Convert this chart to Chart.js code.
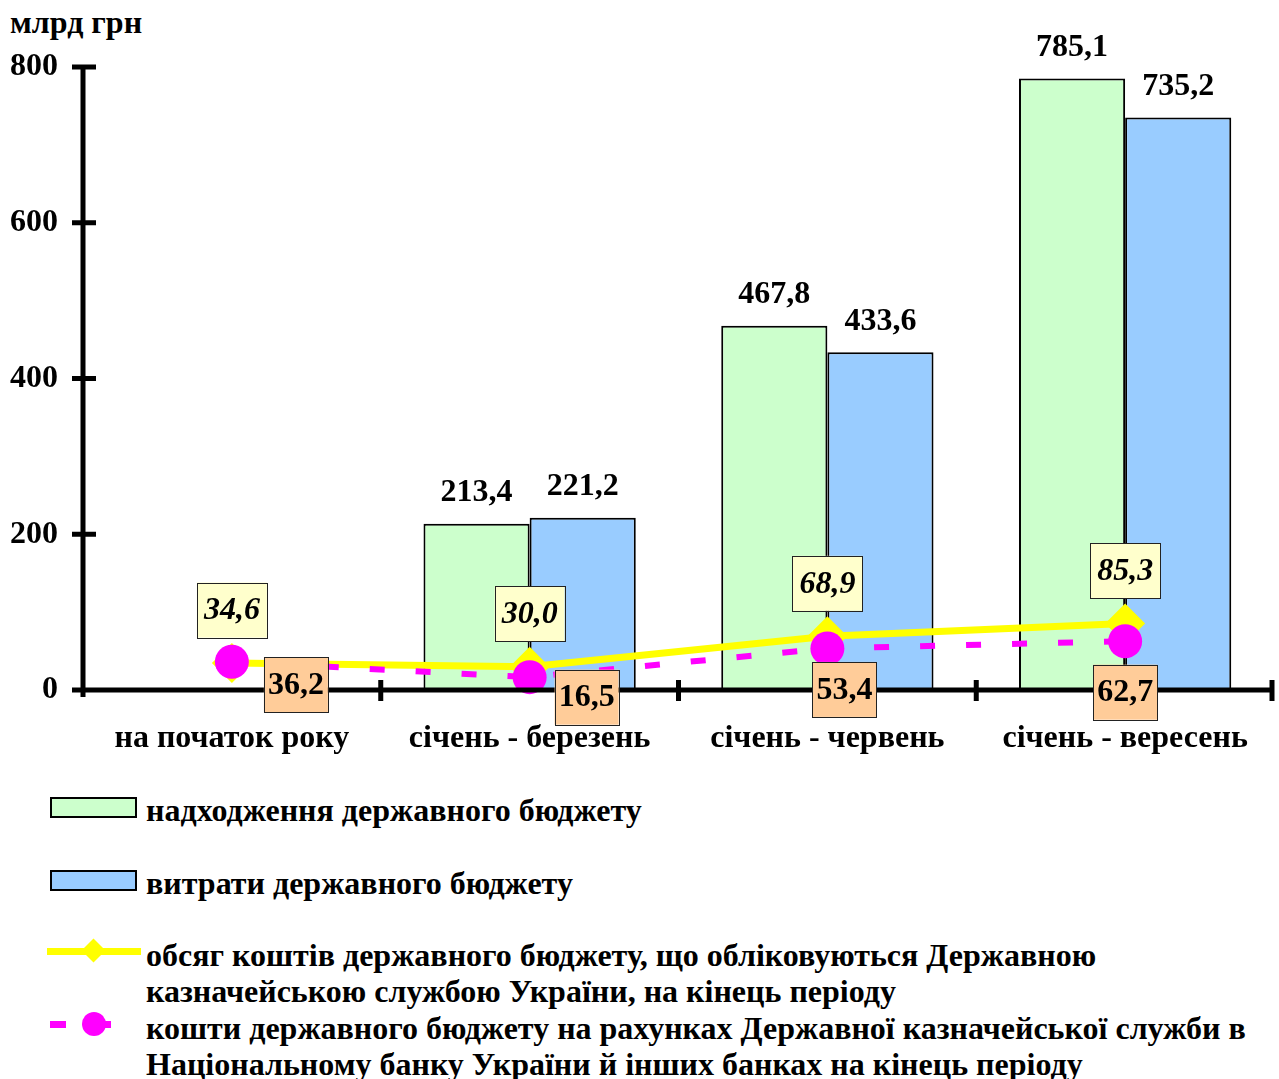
<!DOCTYPE html>
<html>
<head>
<meta charset="utf-8">
<script src="https://cdn.jsdelivr.net/npm/chart.js@4/dist/chart.umd.min.js"></script>
<style>
  html, body { margin:0; padding:0; background:#fff; }
  #wrap { position:relative; width:1279px; height:1079px; overflow:hidden; font-family:'Liberation Serif','Times New Roman',serif; }
  #unit { position:absolute; left:10px; top:4px; font-weight:bold; font-size:32px; line-height:36px; }
  #chartBox { position:absolute; left:0; top:0; width:1279px; height:775px; }
  .lg-text { position:absolute; left:146px; font-weight:bold; font-size:32px; line-height:36px; white-space:nowrap; }
  .lg-rect { position:absolute; left:50px; width:87px; height:21px; box-sizing:border-box; border:2px solid #000; }
  .abs { position:absolute; }
</style>
</head>
<body>
<div id="wrap">
  <div id="unit">млрд грн</div>
  <div id="chartBox"><canvas id="c"></canvas></div>
  <div id="legend"></div>
</div>
<script>
// ---------- data ----------
const categories = ['на початок року', 'січень - березень', 'січень - червень', 'січень - вересень'];
const revenues = [null, 213.4, 467.8, 785.1];
const expenditures = [null, 221.2, 433.6, 735.2];
const treasuryFunds = [34.6, 30.0, 68.9, 85.3];
const bankFunds = [36.2, 16.5, 53.4, 62.7];
const yTicks = [0, 200, 400, 600, 800];
const seriesNames = [
  ['надходження державного бюджету'],
  ['витрати державного бюджету'],
  ['обсяг коштів державного бюджету, що обліковуються Державною', 'казначейською службою України, на кінець періоду'],
  ['кошти державного бюджету на рахунках Державної казначейської служби в', 'Національному банку України й інших банках на кінець періоду']
];
const unitLabel = 'млрд грн';

// ---------- styles ----------
const FONT = "'Liberation Serif', 'Times New Roman', serif";
const colGreen = '#CCFFCC', colBlue = '#99CCFF', colYellow = '#FFFF00', colMagenta = '#FF00FF';
const boxYellow = '#FFFFCC', boxOrange = '#FFCC99';
const bankLabelOffsets = [[64, 23], [57, 20], [17, 41], [0, 51]];

const fmt = v => v.toFixed(1).replace('.', ',');

document.getElementById('unit').textContent = unitLabel;

const overlay = {
  id: 'overlay',
  afterDatasetsDraw(chart) {
    const ctx = chart.ctx, x = chart.scales.x, y = chart.scales.y, ca = chart.chartArea;
    ctx.save();
    // axes
    ctx.strokeStyle = '#000';
    ctx.lineWidth = 5;
    ctx.lineCap = 'butt';
    const y0 = y.getPixelForValue(0);
    ctx.beginPath();
    ctx.moveTo(ca.left, y.getPixelForValue(yTicks[yTicks.length - 1]) - 2);
    ctx.lineTo(ca.left, y0 + 7);
    ctx.moveTo(ca.left - 11, y0);
    ctx.lineTo(ca.right, y0);
    yTicks.forEach(t => {
      const py = y.getPixelForValue(t);
      ctx.moveTo(ca.left - 11, py);
      ctx.lineTo(ca.left + 13, py);
    });
    for (let i = 0; i < categories.length; i++) {
      let bx;
      if (i < categories.length - 1) bx = (x.getPixelForValue(i) + x.getPixelForValue(i + 1)) / 2;
      else bx = ca.right - 2;
      ctx.moveTo(bx, y0 - 10);
      ctx.lineTo(bx, y0 + 11);
    }
    ctx.stroke();

    // bar labels
    ctx.fillStyle = '#000';
    ctx.textAlign = 'center';
    ctx.textBaseline = 'middle';
    ctx.font = 'bold 32px ' + FONT;
    [0, 1].forEach(di => {
      const meta = chart.getDatasetMeta(di);
      meta.data.forEach((el, i) => {
        const v = chart.data.datasets[di].data[i];
        if (v == null) return;
        ctx.fillText(fmt(v), el.x, el.y - 31);
      });
    });

    // line labels
    function box(cx, cy, w, h, fill, text, font) {
      ctx.fillStyle = fill;
      ctx.fillRect(cx - w / 2, cy - h / 2, w, h);
      ctx.strokeStyle = '#222';
      ctx.lineWidth = 1;
      ctx.strokeRect(Math.round(cx - w / 2) + 0.5, Math.round(cy - h / 2) + 0.5, w, h);
      ctx.fillStyle = '#000';
      ctx.font = font;
      ctx.fillText(text, cx, cy + 1);
    }
    const m2 = chart.getDatasetMeta(2);
    m2.data.forEach((el, i) => {
      box(el.x, el.y - 53, 70, 55, boxYellow, fmt(treasuryFunds[i]), 'italic bold 32px ' + FONT);
    });
    const m3 = chart.getDatasetMeta(3);
    m3.data.forEach((el, i) => {
      const o = bankLabelOffsets[i];
      box(el.x + o[0], el.y + o[1], 64, 55, boxOrange, fmt(bankFunds[i]), 'bold 32px ' + FONT);
    });
    ctx.restore();
  }
};

new Chart(document.getElementById('c'), {
  data: {
    labels: categories,
    datasets: [
      { type: 'bar', label: seriesNames[0].join(' '), data: revenues, backgroundColor: colGreen, borderColor: '#000', borderWidth: 2, borderSkipped: false, order: 3, categoryPercentage: 0.713, barPercentage: 1 },
      { type: 'bar', label: seriesNames[1].join(' '), data: expenditures, backgroundColor: colBlue, borderColor: '#000', borderWidth: 2, borderSkipped: false, order: 3, categoryPercentage: 0.713, barPercentage: 1 },
      { type: 'line', label: seriesNames[2].join(' '), data: treasuryFunds, borderColor: colYellow, backgroundColor: colYellow, borderWidth: 7, pointStyle: 'rectRot', pointRadius: 20, pointBorderWidth: 0, pointBackgroundColor: colYellow, tension: 0, order: 2, clip: false },
      { type: 'line', label: seriesNames[3].join(' '), data: bankFunds, borderColor: colMagenta, backgroundColor: colMagenta, borderWidth: 6, borderDash: [15, 31], pointStyle: 'circle', pointRadius: 17, pointBorderWidth: 0, pointBackgroundColor: colMagenta, tension: 0, order: 1, clip: false }
    ]
  },
  options: {
    responsive: true,
    maintainAspectRatio: false,
    animation: false,
    layout: { autoPadding: false, padding: { top: 67, right: 5, left: 0, bottom: 0 } },
    plugins: { legend: { display: false }, tooltip: { enabled: false } },
    scales: {
      x: {
        grid: { display: false, drawTicks: false },
        border: { display: false },
        ticks: { color: '#000', font: { family: FONT, size: 32, weight: 'bold' }, padding: 30, maxRotation: 0, autoSkip: false },
        afterFit(s) { s.height = 85; s.paddingLeft = 0; s.paddingRight = 0; }
      },
      y: {
        min: 0, max: 800,
        afterBuildTicks(s) { s.ticks = yTicks.map(v => ({ value: v })); },
        grid: { display: false, drawTicks: false },
        border: { display: false },
        ticks: { color: '#000', font: { family: FONT, size: 32, weight: 'bold' }, padding: 25 },
        afterFit(s) { s.width = 83; s.paddingTop = 0; s.paddingBottom = 0; }
      }
    }
  },
  plugins: [overlay]
});

// ---------- legend ----------
const legend = document.getElementById('legend');
const rowTops = [792, 865, 937, 1010];
function add(html) { legend.insertAdjacentHTML('beforeend', html); }
add(`<div class="lg-rect" style="top:797px;background:${colGreen}"></div>`);
add(`<div class="lg-rect" style="top:870px;background:${colBlue}"></div>`);
// yellow line + diamond
add(`<div class="abs" style="left:47px;top:948px;width:94px;height:7px;background:${colYellow}"></div>`);
add(`<div class="abs" style="left:85px;top:942px;width:17px;height:17px;background:${colYellow};transform:rotate(45deg)"></div>`);
// magenta dash + circle
add(`<div class="abs" style="left:50px;top:1021px;width:16px;height:7px;background:${colMagenta}"></div>`);
add(`<div class="abs" style="left:90px;top:1021px;width:21px;height:7px;background:${colMagenta}"></div>`);
add(`<div class="abs" style="left:82px;top:1012px;width:24px;height:24px;border-radius:50%;background:${colMagenta}"></div>`);
seriesNames.forEach((lines, i) => {
  const d = document.createElement('div');
  d.className = 'lg-text';
  d.style.top = rowTops[i] + 'px';
  d.innerHTML = lines.map(l => l.replace(/&/g, '&amp;').replace(/</g, '&lt;')).join('<br>');
  legend.appendChild(d);
});
</script>
</body>
</html>
